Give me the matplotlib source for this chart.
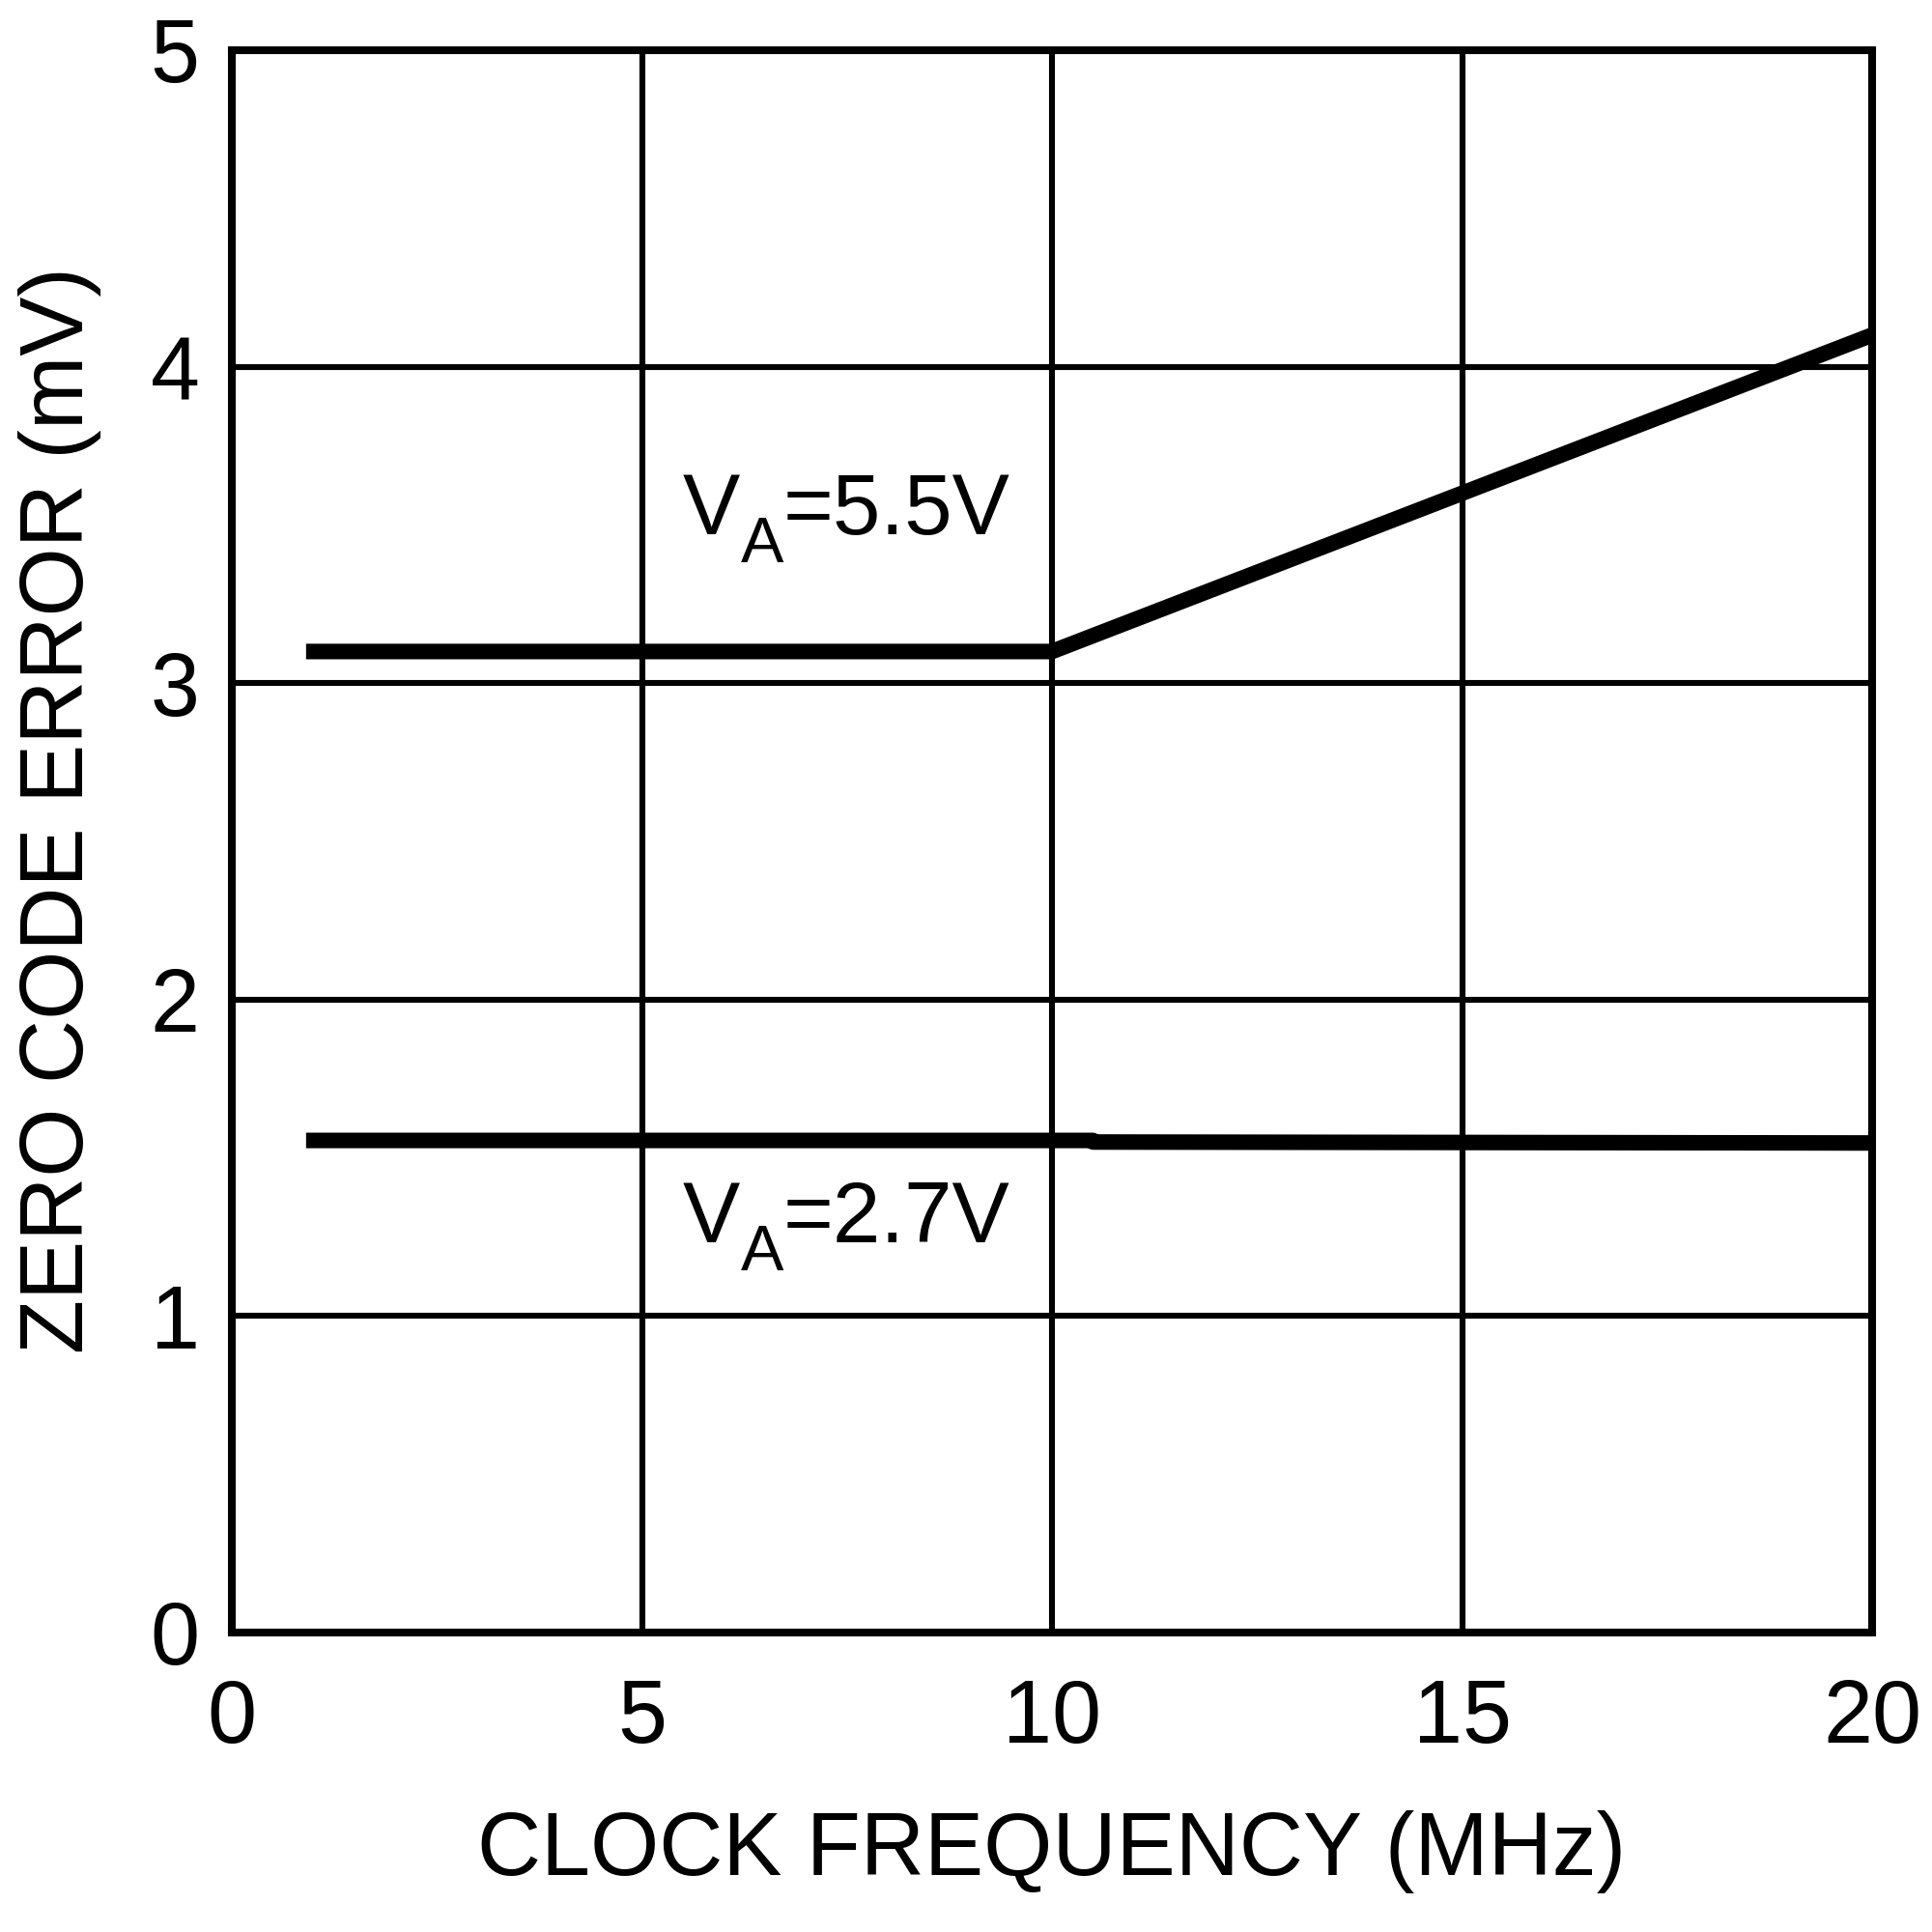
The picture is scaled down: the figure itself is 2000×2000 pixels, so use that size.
import matplotlib
matplotlib.use('Agg')
import matplotlib.pyplot as plt

plt.rcParams['font.family'] = ['Liberation Sans', 'DejaVu Sans']

# data
freq_55 = [1, 10, 20]
err_55 = [3.1, 3.1, 4.1]
freq_27 = [1, 10.5, 10.5, 20]
err_27 = [1.555, 1.555, 1.55, 1.547]

xticks = [0, 5, 10, 15, 20]
yticks = [0, 1, 2, 3, 4, 5]

labels = ['=5.5V', '=2.7V']
label_y = [3.471, 1.233]

fig = plt.figure(figsize=(10, 10), dpi=200)
ax = fig.add_axes([0.12, 0.155, 0.849, 0.819])

ax.plot(freq_55, err_55, color='black', lw=5.8, solid_capstyle='projecting',
        solid_joinstyle='miter', zorder=3)
ax.plot(freq_27, err_27, color='black', lw=5.8, solid_capstyle='projecting', zorder=3)

ax.set_xlim(0, 20)
ax.set_ylim(0, 5)
ax.set_xticks(xticks)
ax.set_yticks(yticks)
ax.grid(True, color='black', lw=2.2)
ax.tick_params(length=0, labelsize=33)
ax.tick_params(axis='x', pad=17)
ax.tick_params(axis='y', pad=12)
for s in ax.spines.values():
    s.set_linewidth(2.9)

ax.text(0.5, -0.1386, 'CLOCK FREQUENCY (MHz)', transform=ax.transAxes,
        ha='center', va='center', fontsize=33)
ax.text(-0.1048, 0.52, 'ZERO CODE ERROR (mV)', transform=ax.transAxes,
        ha='center', va='center', rotation=90, fontsize=33)

# V_A labels: V, subscript A, then the rest
for txt, yy in zip(labels, label_y):
    ax.annotate('V', xy=(5.5, yy), xytext=(0, 0), textcoords='offset points',
                fontsize=32, ha='left', va='baseline')
    ax.annotate('A', xy=(5.5, yy), xytext=(21.5, -10.4), textcoords='offset points',
                fontsize=24, ha='left', va='baseline')
    ax.annotate(txt, xy=(5.5, yy), xytext=(37.4, 0), textcoords='offset points',
                fontsize=32, ha='left', va='baseline')

fig.savefig('out.png', dpi=200, facecolor='white')
